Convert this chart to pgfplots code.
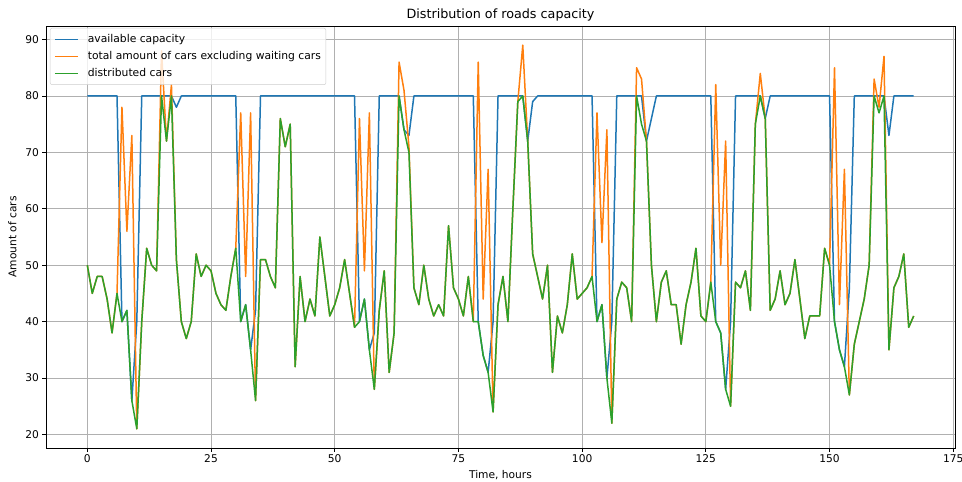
\documentclass[border=0pt]{standalone}
\usepackage{fontspec}
\setmainfont{DejaVu Sans}
\usepackage{pgfplots}
\usepackage{pgfplotstable}
\pgfplotsset{compat=1.18}

\definecolor{c0}{HTML}{1F77B4}
\definecolor{c1}{HTML}{FF7F0E}
\definecolor{c2}{HTML}{2CA02C}
\definecolor{gridgray}{HTML}{B0B0B0}

% hour, available capacity, total cars (excluding waiting), distributed cars
\pgfplotstableread{
t   cap total dist
0   80  50  50
1   80  45  45
2   80  48  48
3   80  48  48
4   80  44  44
5   80  38  38
6   80  45  45
7   40  78  40
8   42  56  42
9   26  73  26
10  40  21  21
11  80  40  40
12  80  53  53
13  80  50  50
14  80  49  49
15  80  88  80
16  80  72  72
17  80  82  80
18  78  51  51
19  80  40  40
20  80  37  37
21  80  40  40
22  80  52  52
23  80  48  48
24  80  50  50
25  80  49  49
26  80  45  45
27  80  43  43
28  80  42  42
29  80  48  48
30  80  53  53
31  40  77  40
32  43  48  43
33  35  77  35
34  42  26  26
35  80  51  51
36  80  51  51
37  80  48  48
38  80  46  46
39  80  76  76
40  80  71  71
41  80  75  75
42  80  32  32
43  80  48  48
44  80  40  40
45  80  44  44
46  80  41  41
47  80  55  55
48  80  48  48
49  80  41  41
50  80  43  43
51  80  46  46
52  80  51  51
53  80  45  45
54  80  39  39
55  40  76  40
56  44  49  44
57  35  77  35
58  38  28  28
59  80  42  42
60  80  49  49
61  80  31  31
62  80  38  38
63  80  86  80
64  74  81  74
65  73  71  70
66  80  46  46
67  80  43  43
68  80  50  50
69  80  44  44
70  80  41  41
71  80  43  43
72  80  41  41
73  80  57  57
74  80  46  46
75  80  44  44
76  80  41  41
77  80  48  48
78  80  40  40
79  40  86  40
80  34  44  34
81  31  67  31
82  40  24  24
83  80  43  43
84  80  48  48
85  80  40  40
86  80  60  60
87  80  79  79
88  80  89  80
89  72  72  72
90  79  52  52
91  80  48  48
92  80  44  44
93  80  50  50
94  80  31  31
95  80  41  41
96  80  38  38
97  80  43  43
98  80  52  52
99  80  44  44
100 80  45  45
101 80  46  46
102 80  48  48
103 40  77  40
104 43  54  43
105 30  74  30
106 40  22  22
107 80  44  44
108 80  47  47
109 80  46  46
110 80  40  40
111 80  85  80
112 80  83  75
113 72  72  72
114 76  50  50
115 80  40  40
116 80  47  47
117 80  49  49
118 80  43  43
119 80  43  43
120 80  36  36
121 80  43  43
122 80  47  47
123 80  53  53
124 80  41  41
125 80  40  40
126 80  47  47
127 40  82  40
128 38  50  38
129 28  72  28
130 40  25  25
131 80  47  47
132 80  46  46
133 80  49  49
134 80  42  42
135 80  75  75
136 80  84  80
137 76  76  76
138 80  42  42
139 80  44  44
140 80  49  49
141 80  43  43
142 80  45  45
143 80  51  51
144 80  44  44
145 80  37  37
146 80  41  41
147 80  41  41
148 80  41  41
149 80  53  53
150 80  50  50
151 40  85  40
152 35  43  35
153 32  67  32
154 46  27  27
155 80  36  36
156 80  40  40
157 80  44  44
158 80  50  50
159 80  83  80
160 80  78  77
161 80  87  80
162 73  35  35
163 80  46  46
164 80  48  48
165 80  52  52
166 80  39  39
167 80  41  41
}\roads

\begin{document}
\begin{tikzpicture}
\begin{axis}[
  scale only axis,
  width=909bp, height=422bp,
  xmin=-8.35, xmax=175.35,
  ymin=17.6, ymax=92.4,
  xtick={0,25,...,175},
  ytick={20,30,...,90},
  tick pos=left,
  tick align=outside,
  major tick length=3.5bp,
  tick style={black, line width=0.8bp},
  axis line style={line width=0.8bp},
  grid=major,
  grid style={gridgray, line width=0.8bp},
  /pgf/number format/assume math mode=true,
  tick label style={font=\fontsize{10.7}{12}\selectfont},
  label style={font=\fontsize{10.7}{12}\selectfont},
  ylabel style={yshift=2bp},
  title={Distribution of roads capacity},
  title style={font=\fontsize{12.8}{14}\selectfont, yshift=-5bp},
  xlabel={Time, hours},
  ylabel={Amount of cars},
  legend cell align=left,
  legend image code/.code={\draw[#1, line width=1.6bp] (0bp,0bp) -- (23bp,0bp);},
  legend style={
    at={(0,1)}, anchor=north west, xshift=4bp, yshift=-2bp,
    draw=black!20, rounded corners=2bp,
    fill=white, fill opacity=0.8, draw opacity=1, text opacity=1,
    font=\fontsize{10.8}{12}\selectfont,
    inner xsep=4bp, inner ysep=5bp, row sep=4.5bp,
    nodes={inner sep=1bp, text height=8bp, text depth=2.5bp},
    /tikz/every odd column/.append style={column sep=8bp},
  },
]
\coordinate (bl) at (rel axis cs:0,0);
\coordinate (tr) at (rel axis cs:1,1);
\addplot[c0, line width=1.5bp, line join=round] table[x=t, y=cap] {\roads};
\addlegendentry{available capacity}
\addplot[c1, line width=1.5bp, line join=round] table[x=t, y=total] {\roads};
\addlegendentry{total amount of cars excluding waiting cars}
\addplot[c2, line width=1.5bp, line join=round] table[x=t, y=dist] {\roads};
\addlegendentry{distributed cars}
\end{axis}
\pgfresetboundingbox
\path[use as bounding box] ([shift={(-46bp,-34bp)}]bl) rectangle ([shift={(7bp,26bp)}]tr);
\end{tikzpicture}
\end{document}
